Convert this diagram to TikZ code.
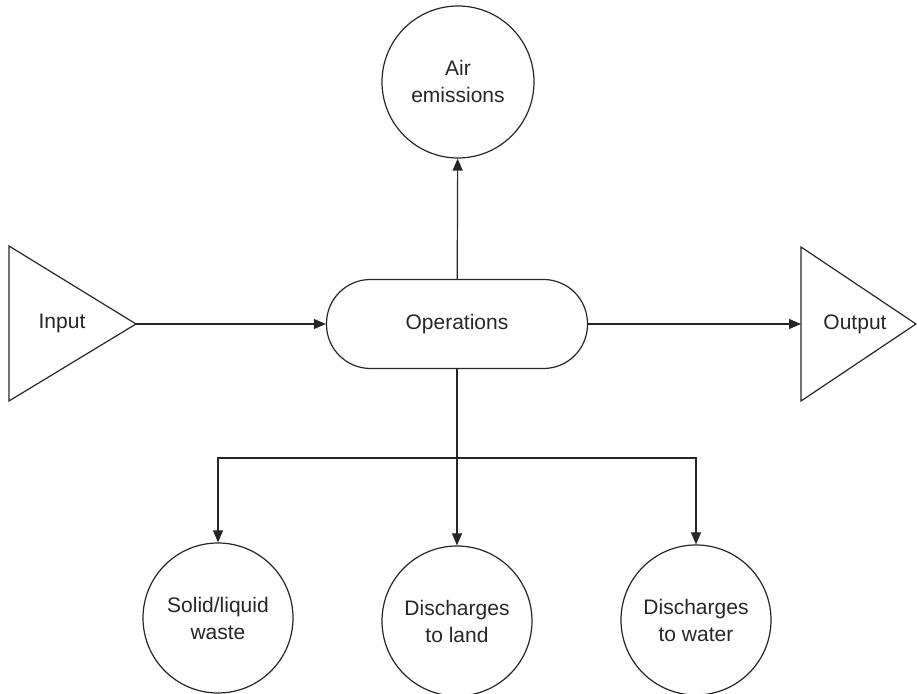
\documentclass[tikz,border=0pt]{standalone}
\usepackage{fontspec}
\setmainfont{Liberation Sans}
\usetikzlibrary{arrows.meta,positioning}

\begin{document}
\begin{tikzpicture}[x=0.5pt,y=-0.5pt,line width=0.6pt,draw=black!85,
        >={Triangle[length=6pt,width=5pt]}]
        \tikzstyle{every node}=[font=\fontsize{10.5}{13.5}\selectfont, text=black!85]
        \tikzstyle{sink}=[circle,draw,minimum size=75pt,inner sep=0pt,align=center]
        \tikzstyle{process}=[rectangle,draw,rounded corners=22pt,minimum width=130.5pt,minimum height=44.5pt]
        \tikzstyle{flow}=[->,shorten >=0pt]

        \useasboundingbox (0,0) rectangle (917,694);

        % Draw the operations node and the air emissions
        \node[process] (ops) at (457,324) {Operations};
        \node[sink, minimum size=76pt] (air) at (458,82) {Air\\emissions};

        % Draw the input and output triangles
        \draw (9,246) -- (9,401) -- (136,324) coordinate (in-tip) -- cycle;
        \node (in) at (62,323) {Input};
        \draw (801,247) -- (801,401) -- (916,324) -- cycle;
        \coordinate (out-base) at (801,324);
        \node (out) at (855,324) {Output};

        % Draw the three lower sinks
        \node[sink] (waste) at (218,618) {Solid/liquid\\waste};
        \node[sink] (land) at (457,621) {Discharges\\to land};
        \node[sink] (water) at (696,620) {Discharges\\to water};
        \coordinate (split) at (457,458);

        % Connect the flows
        \draw[flow] (in-tip) -- (ops);
        \draw[flow] (ops) -- (out-base);
        \draw[flow] (ops) -- (air);
        \draw[flow] (ops) -- (land);
        \foreach \dest in {waste, water}
            \draw[flow] (split) -| (\dest);
\end{tikzpicture}
\end{document}
